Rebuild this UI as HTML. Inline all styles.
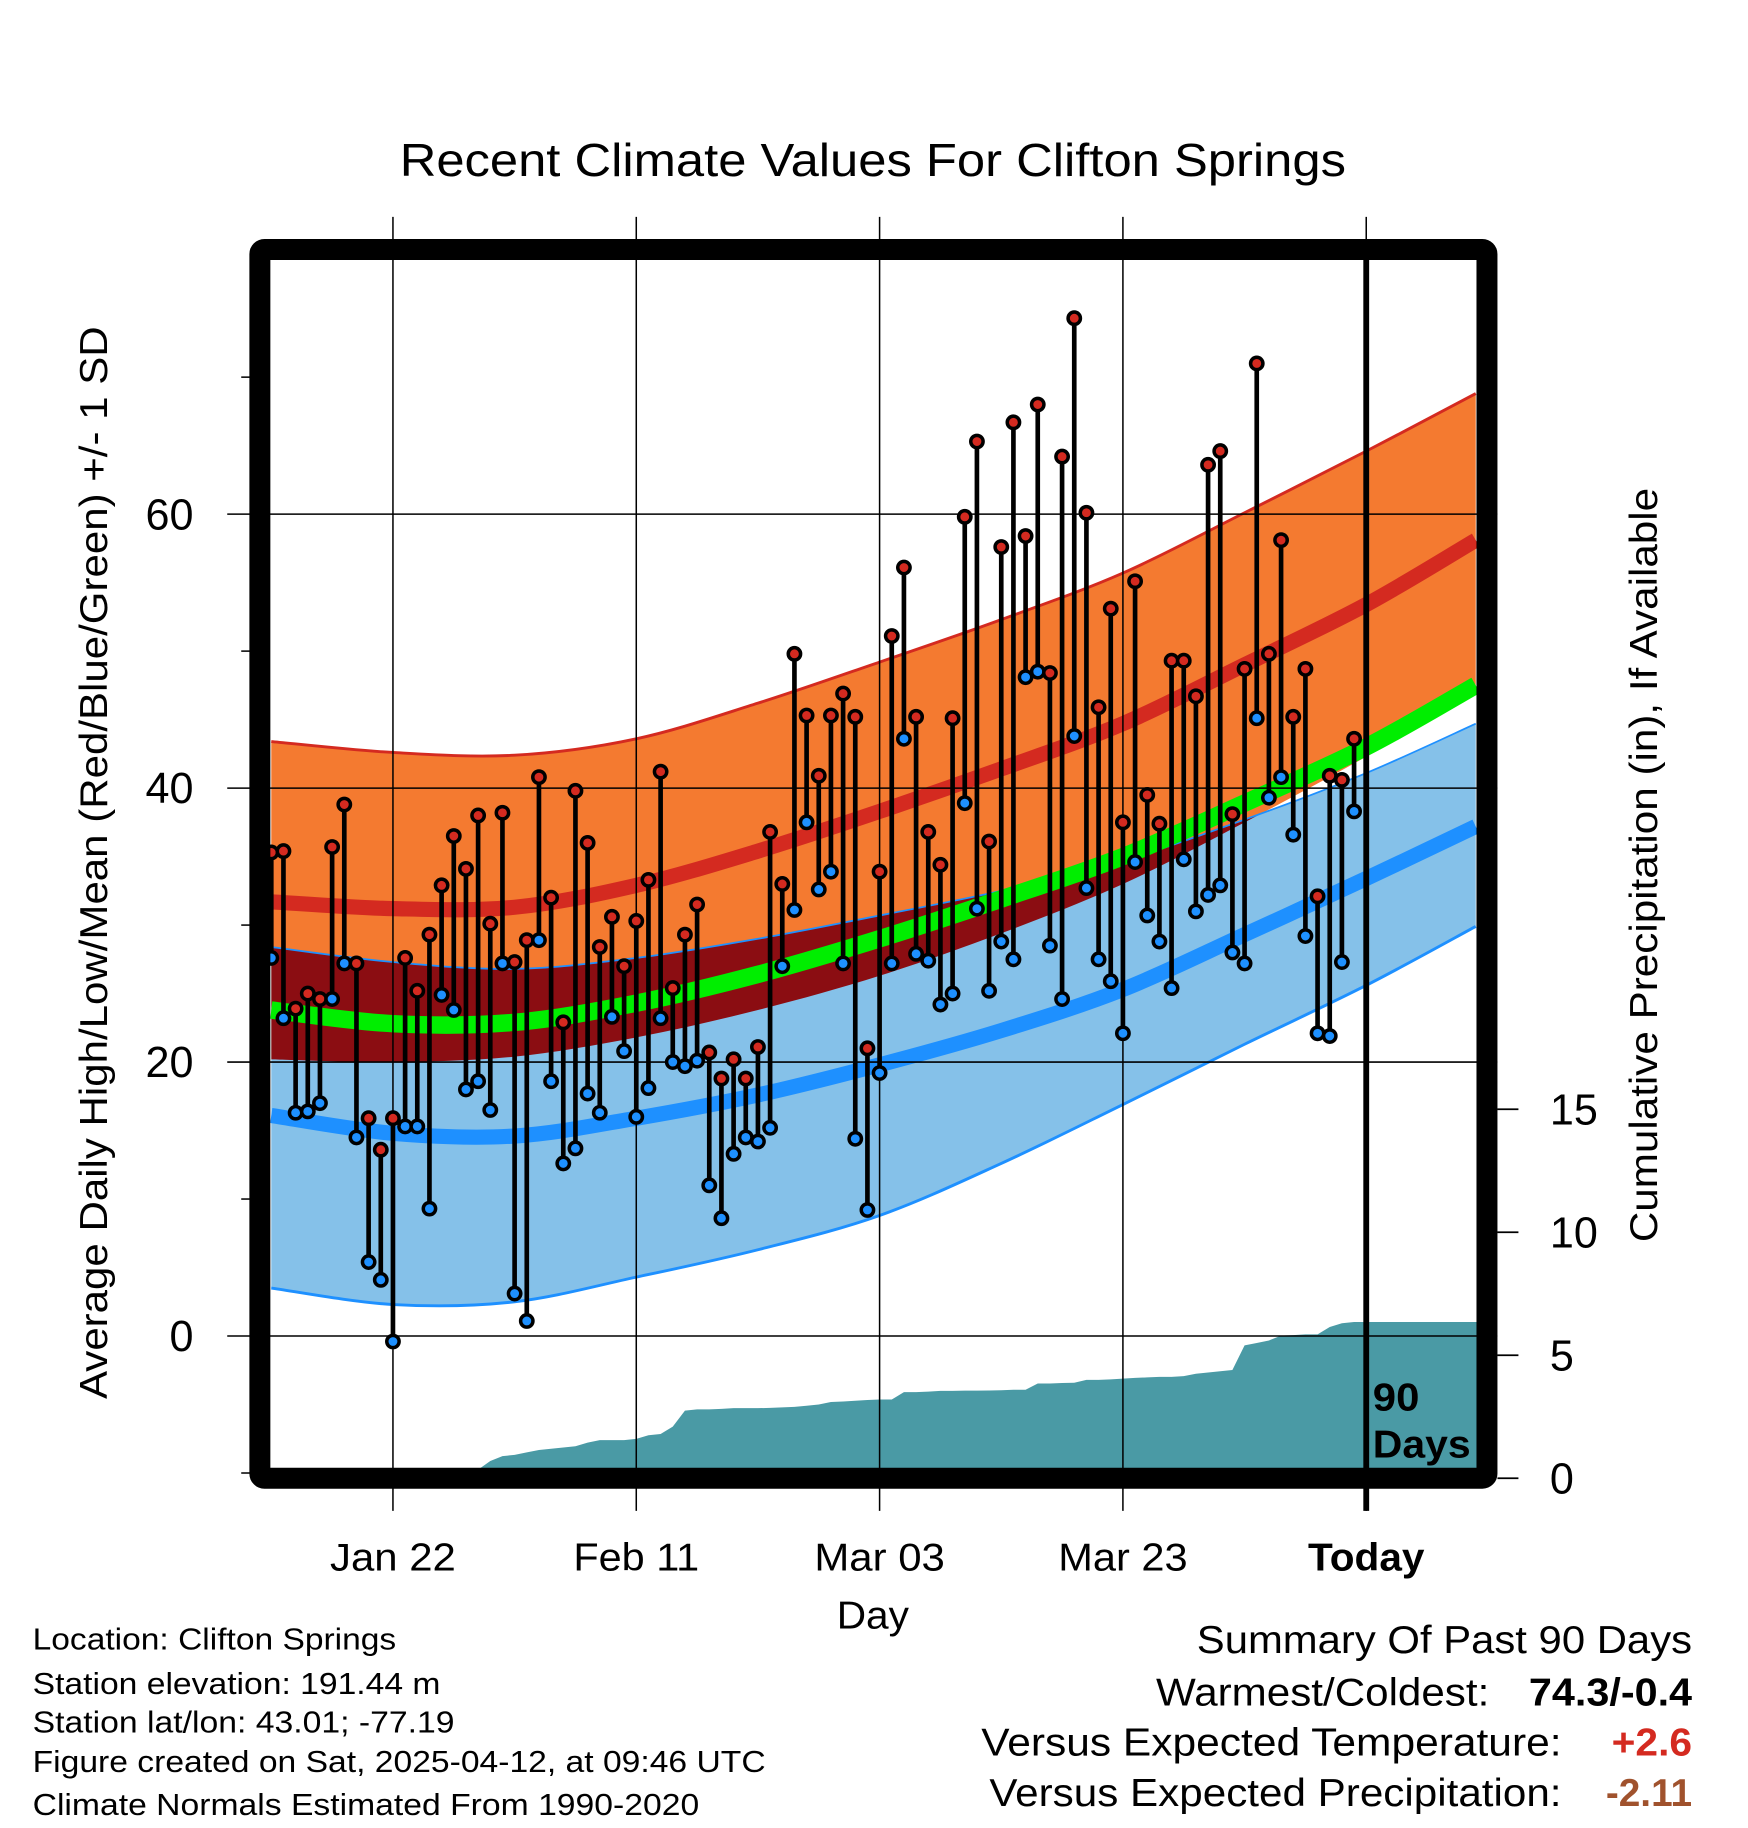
<!DOCTYPE html>
<html><head><meta charset="utf-8"><style>
html,body{margin:0;padding:0;background:#fff;}
svg{display:block;font-family:"Liberation Sans",sans-serif;}
</style></head><body>
<svg id="chart" width="1748" height="1828" viewBox="0 0 1500 1568" preserveAspectRatio="none" xmlns="http://www.w3.org/2000/svg">
<defs>
<clipPath id="plotclip"><rect x="232" y="223" width="1036" height="1037"/></clipPath>
<clipPath id="blueclip"><path id="blueclipPath" d=""/></clipPath>
</defs>
<text x="343" y="151" font-size="40" textLength="812" lengthAdjust="spacingAndGlyphs">Recent Climate Values For Clifton Springs</text>
<g id="plot" clip-path="url(#plotclip)"></g>
<g id="over"></g>
<text transform="translate(92,740) rotate(-90)" font-size="33" text-anchor="middle" textLength="920" lengthAdjust="spacingAndGlyphs">Average Daily High/Low/Mean (Red/Blue/Green) +/- 1 SD</text>
<text transform="translate(1422,742) rotate(-90)" font-size="33" text-anchor="middle" textLength="647" lengthAdjust="spacingAndGlyphs">Cumulative Precipitation (in), If Available</text>
<text x="718" y="1397" font-size="33" textLength="62" lengthAdjust="spacingAndGlyphs">Day</text>
<g font-size="26" lengthAdjust="spacingAndGlyphs">
<text x="28" y="1415" textLength="312" lengthAdjust="spacingAndGlyphs">Location: Clifton Springs</text>
<text x="28" y="1453" textLength="350" lengthAdjust="spacingAndGlyphs">Station elevation: 191.44 m</text>
<text x="28" y="1486" textLength="362" lengthAdjust="spacingAndGlyphs">Station lat/lon: 43.01; -77.19</text>
<text x="28" y="1520" textLength="629" lengthAdjust="spacingAndGlyphs">Figure created on Sat, 2025-04-12, at 09:46 UTC</text>
<text x="28" y="1557" textLength="572" lengthAdjust="spacingAndGlyphs">Climate Normals Estimated From 1990-2020</text>
</g>
<g font-size="33">
<text x="1027" y="1418" textLength="425" lengthAdjust="spacingAndGlyphs">Summary Of Past 90 Days</text>
<text x="992" y="1463" textLength="286" lengthAdjust="spacingAndGlyphs">Warmest/Coldest:</text>
<text x="1312" y="1463" font-weight="bold" textLength="140" lengthAdjust="spacingAndGlyphs">74.3/-0.4</text>
<text x="842" y="1506" textLength="498" lengthAdjust="spacingAndGlyphs">Versus Expected Temperature:</text>
<text x="1383" y="1506" font-weight="bold" fill="#d42a20" textLength="69" lengthAdjust="spacingAndGlyphs">+2.6</text>
<text x="849" y="1549" textLength="491" lengthAdjust="spacingAndGlyphs">Versus Expected Precipitation:</text>
<text x="1378" y="1549" font-weight="bold" fill="#a0522d" textLength="74" lengthAdjust="spacingAndGlyphs">-2.11</text>
</g>
</svg>
<script>
const normDays=[0,10,20,30,40,50,60,70,80,90,99];
const highUpper=[43.4,42.6,42.4,43.6,46.2,49.2,52.3,55.7,60.1,64.6,68.8];
const highMean=[31.7,31.2,31.3,32.9,35.4,38.3,41.4,44.7,49.0,53.4,58.1];
const highLower=[20.2,20.0,20.4,21.8,23.8,26.3,29.4,33.0,37.5,42.3,47.0];
const meanLine=[23.8,22.8,22.9,24.3,26.4,29.0,31.9,35.0,38.9,43.0,47.5];
const lowUpper=[28.4,27.3,26.8,27.6,29.0,30.7,32.5,34.7,37.7,41.1,44.7];
const lowMean=[16.1,14.8,14.6,15.9,17.6,19.8,22.3,25.3,29.3,33.4,37.2];
const lowLower=[3.5,2.3,2.5,4.3,6.3,8.8,12.6,16.9,21.3,25.6,29.9];
const highs=[35.3,35.4,23.9,25.0,24.6,35.7,38.8,27.2,15.9,13.6,15.9,27.6,25.2,29.3,32.9,36.5,34.1,38.0,30.1,38.2,27.3,28.9,40.8,32.0,22.9,39.8,36.0,28.4,30.6,27.0,30.3,33.3,41.2,25.4,29.3,31.5,20.7,18.8,20.2,18.8,21.1,36.8,33.0,49.8,45.3,40.9,45.3,46.9,45.2,21.0,33.9,51.1,56.1,45.2,36.8,34.4,45.1,59.8,65.3,36.1,57.6,66.7,58.4,68.0,48.4,64.2,74.3,60.1,45.9,53.1,37.5,55.1,39.5,37.4,49.3,49.3,46.7,63.6,64.6,38.1,48.7,71.0,49.8,58.1,45.2,48.7,32.1,40.9,40.6,43.6];
const lows=[27.6,23.2,16.3,16.4,17.0,24.6,27.2,14.5,5.4,4.1,-0.4,15.3,15.3,9.3,24.9,23.8,18.0,18.6,16.5,27.2,3.1,1.1,28.9,18.6,12.6,13.7,17.7,16.3,23.3,20.8,16.0,18.1,23.2,20.0,19.7,20.1,11.0,8.6,13.3,14.5,14.2,15.2,27.0,31.1,37.5,32.6,33.9,27.2,14.4,9.2,19.2,27.2,43.6,27.9,27.4,24.2,25.0,38.9,31.2,25.2,28.8,27.5,48.1,48.5,28.5,24.6,43.8,32.7,27.5,25.9,22.1,34.6,30.7,28.8,25.4,34.8,31.0,32.2,32.9,28.0,27.2,45.1,39.3,40.8,36.6,29.2,22.1,21.9,27.3,38.3];
const precip=[0,0,0,0,0,0,0,0,0,0,0,0,0,0,0,0,0.2,0.35,0.7,0.9,0.95,1.05,1.15,1.2,1.25,1.3,1.45,1.55,1.55,1.55,1.6,1.75,1.8,2.1,2.75,2.8,2.8,2.82,2.85,2.85,2.85,2.86,2.88,2.9,2.95,3.0,3.1,3.12,3.15,3.18,3.2,3.2,3.5,3.5,3.52,3.55,3.55,3.56,3.56,3.57,3.58,3.6,3.6,3.85,3.85,3.87,3.88,4.0,4.0,4.02,4.05,4.08,4.1,4.12,4.12,4.15,4.25,4.3,4.35,4.4,5.4,5.5,5.6,5.8,5.82,5.85,5.85,6.15,6.3,6.35];
const yTicks=[0,20,40,60];
const yMinor=[-10,10,30,50,70];
const pTicks=[0,5,10,15];
const xTickDays=[10,30,50,70,90];
const xTickLabels=["Jan 22","Feb 11","Mar 03","Mar 23","Today"];
const xTickWidths=[108,108,112,111,100];

const NS="http://www.w3.org/2000/svg";
const X=d=>232.8+10.44*d;
const Y=v=>1146-11.75*v;
const P=p=>1268-21.1*p;
const plot=document.getElementById('plot');
const over=document.getElementById('over');
function mk(tag,attrs,parent){const e=document.createElementNS(NS,tag);for(const k in attrs)e.setAttribute(k,attrs[k]);(parent||plot).appendChild(e);return e;}
function pts(arr){return normDays.map((d,i)=>[X(d),Y(arr[i])]);}
function smooth(p){let s='';for(let i=0;i<p.length;i++){if(i===0){s+='M'+p[0][0]+','+p[0][1];continue;}const p0=p[Math.max(i-2,0)],p1=p[i-1],p2=p[i],p3=p[Math.min(i+1,p.length-1)];
const c1=[p1[0]+(p2[0]-p0[0])/6,p1[1]+(p2[1]-p0[1])/6],c2=[p2[0]-(p3[0]-p1[0])/6,p2[1]-(p3[1]-p1[1])/6];s+=' C'+c1+' '+c2+' '+p2;}return s;}
function band(up,lo){const a=smooth(pts(up));const b=pts(lo).reverse();return a+' L'+b[0]+smooth(b).replace(/^M[^ ]+/,'')+' Z';}

const orangeD=band(highUpper,highLower), blueD=band(lowUpper,lowLower);
let e;
e=mk('path',{d:orangeD,fill:'#f47a30'});


e=mk('path',{d:blueD,fill:'#85c1e9'});


document.getElementById('blueclipPath').setAttribute('d',blueD);
e=mk('path',{d:orangeD,fill:'#8b0d12','clip-path':'url(#blueclip)'});


[[highUpper,'#d42a20',2.5,'high-upper-edge'],[lowUpper,'#1e90ff',1.5,'low-upper-edge'],[lowLower,'#1e90ff',2.5,'low-lower-edge'],[highMean,'#d42a20',13,'high-mean-line'],[lowMean,'#1e90ff',13,'low-mean-line'],[meanLine,'#00ee00',15,'mean-line']].forEach(c=>{
 const l=mk('path',{d:smooth(pts(c[0])),fill:'none',stroke:c[1],'stroke-width':c[2]});
 
 
});
let pd='M'+X(0)+','+P(0);
precip.forEach((p,i)=>{pd+=' L'+X(i)+','+P(p);});
pd+=' L1270,'+P(precip[precip.length-1])+' L1270,1270 L'+X(0)+',1270 Z';
e=mk('path',{d:pd,fill:'#4a9aa5'});


yTicks.forEach(v=>{const g=mk('line',{x1:195,x2:1285,y1:Y(v),y2:Y(v),stroke:'#000','stroke-width':1.3},over);
 
 
 const t=mk('text',{x:166,y:Y(v)+13,'font-size':37,'text-anchor':'end'},over);t.textContent=v;
 
 });
yMinor.forEach(v=>{const g=mk('line',{x1:207,x2:215,y1:Y(v),y2:Y(v),stroke:'#000','stroke-width':1.3},over);
 
 });
xTickDays.forEach((d,i)=>{const g=mk('line',{x1:X(d),x2:X(d),y1:186,y2:1296,stroke:'#000','stroke-width':1.3},over);
 
 
 const t=mk('text',{x:X(d)-xTickWidths[i]/2,y:1347,'font-size':33,'font-weight':i===4?'bold':'normal',textLength:xTickWidths[i],lengthAdjust:'spacingAndGlyphs'},over);t.textContent=xTickLabels[i];
 
 });
pTicks.forEach(p=>{const g=mk('line',{x1:1285,x2:1303,y1:P(p),y2:P(p),stroke:'#000','stroke-width':1.5},over);
 
 
 const t=mk('text',{x:1330,y:P(p)+13,'font-size':37},over);t.textContent=p;
 
 });
const sg=mk('g',{},over);
highs.forEach((h,i)=>{const x=X(i);
 const s=mk('line',{x1:x,x2:x,y1:Y(h),y2:Y(lows[i]),stroke:'#000','stroke-width':4},sg);
 
 });
highs.forEach((h,i)=>{const x=X(i);
 const a=mk('circle',{cx:x,cy:Y(h),r:5.3,fill:'#d42a20',stroke:'#000','stroke-width':3},sg);
 
 
 const b=mk('circle',{cx:x,cy:Y(lows[i]),r:5.3,fill:'#1e90ff',stroke:'#000','stroke-width':3},sg);
 
 });
e=mk('line',{x1:X(90),x2:X(90),y1:223,y2:1296,stroke:'#000','stroke-width':5},over);


e=mk('text',{x:1178,y:1210,'font-size':33,'font-weight':'bold',textLength:40,lengthAdjust:'spacingAndGlyphs'},over);e.textContent='90';


e=mk('text',{x:1178,y:1250,'font-size':33,'font-weight':'bold',textLength:84,lengthAdjust:'spacingAndGlyphs'},over);e.textContent='Days';


e=mk('rect',{x:223,y:214,width:1053,height:1054,rx:4,fill:'none',stroke:'#000','stroke-width':18},over);


</script>
</body></html>
